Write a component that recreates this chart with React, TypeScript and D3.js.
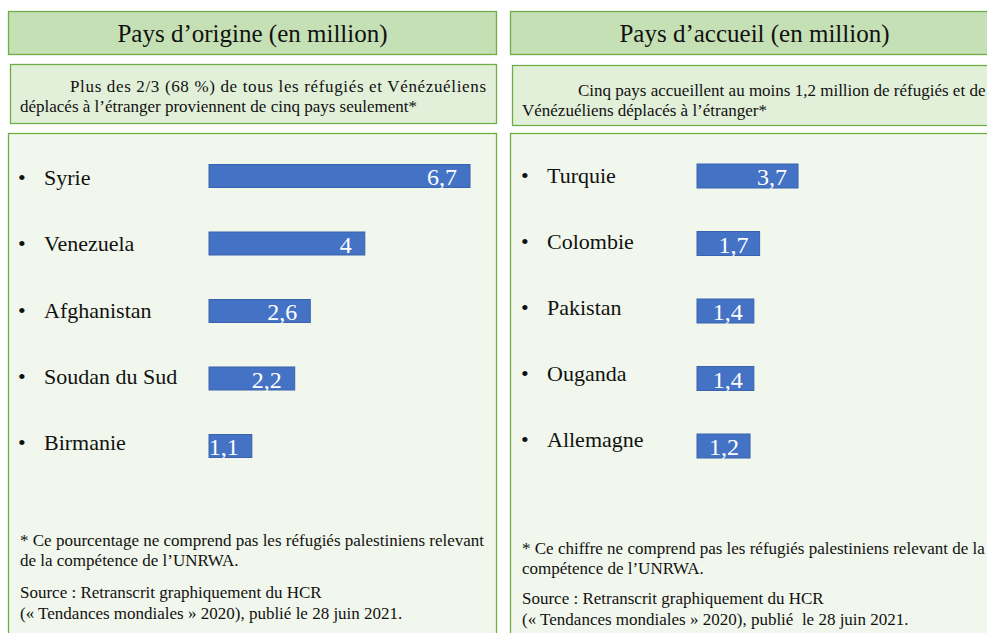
import React from "react";
import * as d3 from "d3";

const originCountries = ["Syrie", "Venezuela", "Afghanistan", "Soudan du Sud", "Birmanie"];
const originValues = [6.7, 4, 2.6, 2.2, 1.1];
const originLabels = ["6,7", "4", "2,6", "2,2", "1,1"];

const hostCountries = ["Turquie", "Colombie", "Pakistan", "Ouganda", "Allemagne"];
const hostValues = [3.7, 1.7, 1.4, 1.4, 1.2];
const hostLabels = ["3,7", "1,7", "1,4", "1,4", "1,2"];

const titles = ["Pays d\u2019origine (en million)", "Pays d\u2019accueil (en million)"];
const subtitleLeft = [
  "Plus des 2/3 (68 %) de tous les r\u00e9fugi\u00e9s et V\u00e9n\u00e9zu\u00e9liens",
  "d\u00e9plac\u00e9s \u00e0 l\u2019\u00e9tranger proviennent de cinq pays seulement*",
];
const subtitleRight = [
  "Cinq pays accueillent au moins 1,2 million de r\u00e9fugi\u00e9s et de",
  "V\u00e9n\u00e9zu\u00e9liens d\u00e9plac\u00e9s \u00e0 l\u2019\u00e9tranger*",
];
const noteLeft = [
  "* Ce pourcentage ne comprend pas les r\u00e9fugi\u00e9s palestiniens relevant",
  "de la comp\u00e9tence de l\u2019UNRWA.",
];
const noteRight = [
  "* Ce chiffre ne comprend pas les r\u00e9fugi\u00e9s palestiniens relevant de la",
  "comp\u00e9tence de l\u2019UNRWA.",
];
const sourceLeft = [
  "Source : Retranscrit graphiquement du HCR",
  "(\u00ab Tendances mondiales \u00bb 2020), publi\u00e9 le 28 juin 2021.",
];
const sourceRight = [
  "Source : Retranscrit graphiquement du HCR",
  "(\u00ab Tendances mondiales \u00bb 2020), publi\u00e9\u00a0 le 28 juin 2021.",
];

const W = 987;
const H = 633;
const FONT = "'Liberation Serif', 'Times New Roman', serif";
const GREEN = "#70AD47";
const BAR = "#4472C4";

export default function App() {
  // left panel scales
  const xL = d3.scaleLinear().domain([0, 6.7]).range([0, 261]);
  const yLabL = d3.scalePoint<string>().domain(originCountries).range([177, 442]);
  const yBarL = d3.scalePoint<string>().domain(originCountries).range([176, 446]);
  // right panel scales
  const xR = d3.scaleLinear().domain([0, 3.7]).range([30, 101]);
  const yLabR = d3.scalePoint<string>().domain(hostCountries).range([175, 439]);
  const yBarR = d3.scalePoint<string>().domain(hostCountries).range([176, 446]);

  const barHL = 23;
  const barHR = 24;
  const x0L = 209;
  const x0R = 697;

  return (
    <svg
      width={W}
      height={H}
      style={{ position: "absolute", left: 0, top: 0, background: "#fff", fontFamily: FONT }}
    >
      {/* title boxes */}
      <rect x={8.5} y={11.5} width={488} height={43} fill="#C5E0B4" stroke={GREEN} strokeWidth={1.3} />
      <rect x={510.5} y={11.5} width={488} height={43} fill="#C5E0B4" stroke={GREEN} strokeWidth={1.3} />
      <text x={252.5} y={42} fontSize={25} textAnchor="middle" fill="#111">{titles[0]}</text>
      <text x={754.5} y={42} fontSize={25} textAnchor="middle" fill="#111">{titles[1]}</text>

      {/* subtitle boxes */}
      <rect x={10.5} y={64.5} width={486} height={59} fill="#E2F0D9" stroke={GREEN} strokeWidth={1.3} />
      <rect x={512.5} y={65.5} width={486} height={60} fill="#E2F0D9" stroke={GREEN} strokeWidth={1.3} />
      <text x={70} y={92} fontSize={17} fill="#111" textLength={416} lengthAdjust="spacing">{subtitleLeft[0]}</text>
      <text x={20} y={112} fontSize={17} fill="#111">{subtitleLeft[1]}</text>
      <text x={578} y={96} fontSize={17} fill="#111">{subtitleRight[0]}</text>
      <text x={522} y={116} fontSize={17} fill="#111">{subtitleRight[1]}</text>

      {/* main boxes */}
      <rect x={8.5} y={133.5} width={488} height={520} fill="#F1F7EC" stroke={GREEN} strokeWidth={1.3} />
      <rect x={510.5} y={133.5} width={488} height={520} fill="#F1F7EC" stroke={GREEN} strokeWidth={1.3} />

      {/* left categories */}
      {originCountries.map((c) => (
        <g key={c}>
          <text x={18} y={(yLabL(c) ?? 0) + 8} fontSize={22} fill="#111">{"\u2022"}</text>
          <text x={44} y={(yLabL(c) ?? 0) + 8} fontSize={22} fill="#111">{c}</text>
        </g>
      ))}
      {originCountries.map((c, i) => {
        const cy = yBarL(c) ?? 0;
        const w = xL(originValues[i]);
        return (
          <g key={c + "b"}>
            <rect x={x0L} y={cy - barHL / 2} width={w} height={barHL} fill={BAR} stroke="#3A62AD" strokeWidth={1} />
            <text x={x0L + w - 13} y={cy + 9} fontSize={24} fill="#fff" textAnchor="end">{originLabels[i]}</text>
          </g>
        );
      })}

      {/* right categories */}
      {hostCountries.map((c) => (
        <g key={c}>
          <text x={521} y={(yLabR(c) ?? 0) + 8} fontSize={22} fill="#111">{"\u2022"}</text>
          <text x={547} y={(yLabR(c) ?? 0) + 8} fontSize={22} fill="#111">{c}</text>
        </g>
      ))}
      {hostCountries.map((c, i) => {
        const cy = yBarR(c) ?? 0;
        const w = xR(hostValues[i]);
        return (
          <g key={c + "b"}>
            <rect x={x0R} y={cy - barHR / 2} width={w} height={barHR} fill={BAR} stroke="#3A62AD" strokeWidth={1} />
            <text x={x0R + w - 11} y={cy + 9} fontSize={24} fill="#fff" textAnchor="end">{hostLabels[i]}</text>
          </g>
        );
      })}

      {/* footnotes */}
      {noteLeft.map((t, i) => (
        <text key={"nl" + i} x={20} y={546 + i * 20} fontSize={17} fill="#111">{t}</text>
      ))}
      {sourceLeft.map((t, i) => (
        <text key={"sl" + i} x={20} y={598 + i * 21} fontSize={17} fill="#111">{t}</text>
      ))}
      {noteRight.map((t, i) => (
        <text key={"nr" + i} x={522} y={554 + i * 20} fontSize={17} fill="#111">{t}</text>
      ))}
      {sourceRight.map((t, i) => (
        <text key={"sr" + i} x={522} y={604 + i * 21} fontSize={17} fill="#111">{t}</text>
      ))}
    </svg>
  );
}
